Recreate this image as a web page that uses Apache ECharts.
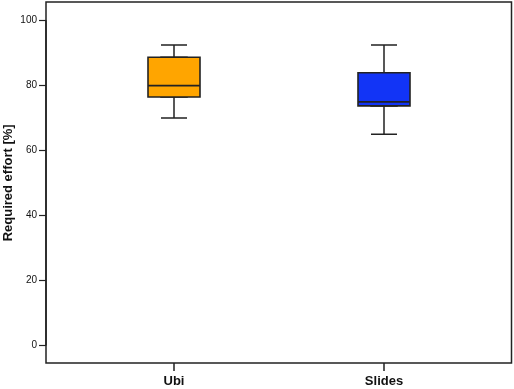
<!DOCTYPE html>
<html>
<head>
<meta charset="utf-8">
<script src="https://cdn.jsdelivr.net/npm/echarts@6/dist/echarts.min.js"></script>
<style>html,body{margin:0;padding:0;background:#fff}#c{width:514px;height:389px}</style>
</head>
<body>
<div id="c"></div>
<script>
var categories = ['Ubi', 'Slides'];
// [min, Q1, median, Q3, max]
var ubiValues = [70, 76.5, 80, 88.75, 92.5];
var slidesValues = [65, 73.75, 75, 84, 92.5];
var yTicks = [0, 20, 40, 60, 80, 100];
var boxColors = ['#ffa500', '#1234f6'];

var rawStats = [ubiValues, slidesValues];
var whiskerData = rawStats.map(function (s, i) {
  return { name: categories[i], value: s.slice(), itemStyle: { color: boxColors[i] } };
});
var boxData = rawStats.map(function (s, i) {
  return { name: categories[i], value: [s[1], s[1], s[2], s[3], s[3]], itemStyle: { color: boxColors[i] } };
});

var chart = echarts.init(document.getElementById('c'), null, { renderer: 'canvas' });
chart.setOption({
  animation: false,
  backgroundColor: '#fff',
  grid: [
    { left: 46, right: 2.5, top: 20.7, bottom: 44, show: false, containLabel: false, outerBoundsMode: 'none' },
    { left: 69, right: 25, top: 2, bottom: 26, show: false, containLabel: false, outerBoundsMode: 'none' },
    { left: 46, right: 2.5, top: 2, bottom: 26, show: true, borderColor: '#222', borderWidth: 1.5, backgroundColor: 'transparent', containLabel: false, outerBoundsMode: 'none' }
  ],
  xAxis: [
    { type: 'value', gridIndex: 0, show: false, min: 0, max: 1 },
    {
      type: 'category', gridIndex: 1, data: categories, position: 'bottom',
      axisLine: { show: false, onZero: false },
      axisTick: { show: true, inside: false, length: 8, alignWithLabel: true, interval: 0, lineStyle: { color: '#222', width: 1.5 } },
      axisLabel: { color: '#111', fontFamily: 'Liberation Sans', fontWeight: 'bold', fontSize: 13, margin: 12 },
      splitLine: { show: false }
    },
    { type: 'category', gridIndex: 1, data: categories, show: false, position: 'top', axisLine: { onZero: false } },
    { type: 'value', gridIndex: 2, show: false, min: 0, max: 1 }
  ],
  yAxis: [
    {
      type: 'value', gridIndex: 0, min: 0, max: 100, interval: 20, position: 'left',
      name: 'Required effort [%]', nameLocation: 'middle', nameGap: 31, nameMoveOverlap: false,
      nameTextStyle: { color: '#111', fontFamily: 'Liberation Sans', fontWeight: 'bold', fontSize: 13 },
      axisLine: { show: true, onZero: false, lineStyle: { color: '#222', width: 1.5 } },
      axisTick: { show: true, inside: false, length: 7, lineStyle: { color: '#222', width: 1.2 } },
      axisLabel: { color: '#111', fontFamily: 'Liberation Sans', fontSize: 10, margin: 9 },
      splitLine: { show: false }
    },
    { type: 'value', gridIndex: 1, show: false, min: -5.55, max: 105.8, axisLine: { onZero: false } },
    { type: 'value', gridIndex: 2, show: false, min: 0, max: 1 }
  ],
  series: [
    {
      type: 'boxplot', xAxisIndex: 2, yAxisIndex: 1, boxWidth: [26, 26], z: 2,
      itemStyle: { borderColor: '#222', borderWidth: 1.5 },
      data: whiskerData
    },
    {
      type: 'boxplot', xAxisIndex: 1, yAxisIndex: 1, boxWidth: [52, 52], z: 3,
      itemStyle: { borderColor: '#222', borderWidth: 1.6 },
      data: boxData
    }
  ]
});
</script>
</body>
</html>
